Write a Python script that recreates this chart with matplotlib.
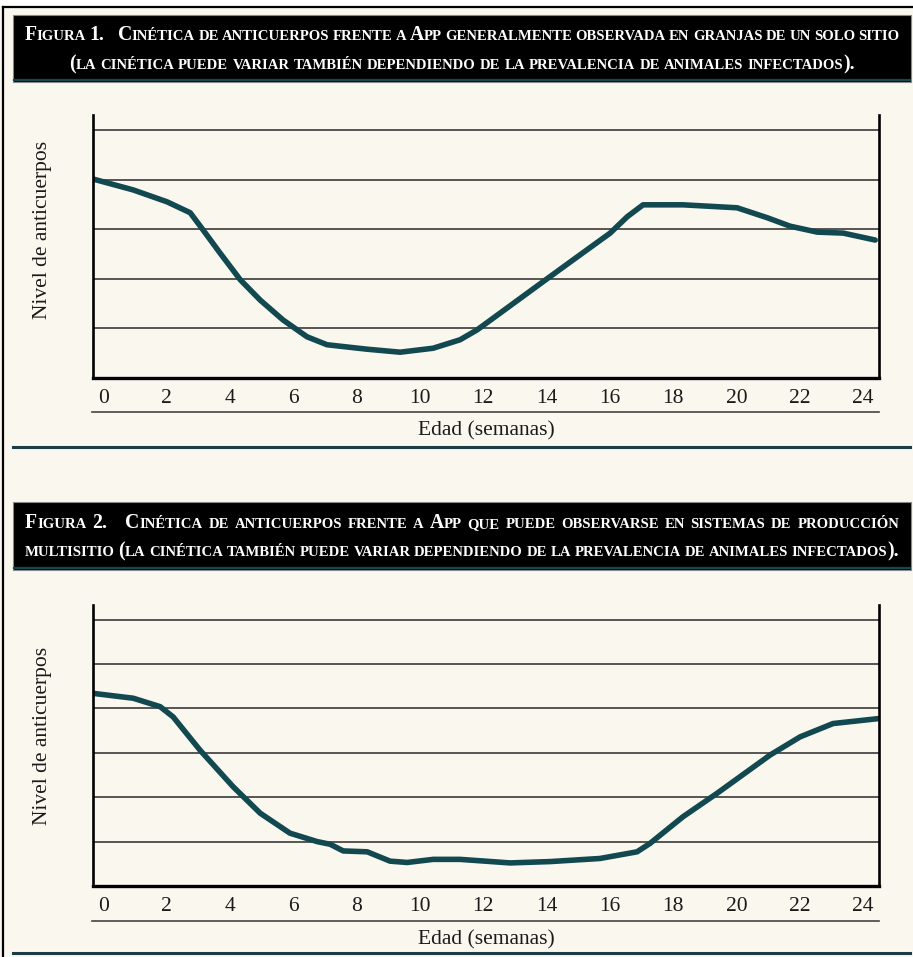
import matplotlib
matplotlib.use('Agg')
import matplotlib.pyplot as plt
from matplotlib.lines import Line2D
from matplotlib.patches import Rectangle
from matplotlib.offsetbox import TextArea, HPacker, DrawingArea, AnchoredOffsetbox

# --- data (weeks, antibody level in grid units) ---
weeks_1 = [-0.32, 0.95, 2.02, 2.75, 3.16, 3.69, 4.33, 4.96, 5.68, 6.44, 7.07, 8.34, 9.38,
           10.42, 11.27, 11.81, 12.54, 13.89, 14.97, 16.01, 16.55, 17.05, 18.31, 20.02,
           20.97, 21.69, 22.55, 23.37, 24.38]
level_1 = [4.01, 3.79, 3.55, 3.33, 2.98, 2.52, 1.98, 1.57, 1.17, 0.83, 0.67, 0.58, 0.52,
           0.60, 0.77, 0.97, 1.31, 1.94, 2.44, 2.92, 3.25, 3.49, 3.49, 3.43,
           3.23, 3.06, 2.94, 2.92, 2.78]

weeks_2 = [-0.32, 0.95, 1.80, 2.21, 3.06, 4.10, 4.96, 5.90, 6.76, 7.17, 7.58, 8.34, 9.06,
           9.60, 10.42, 11.27, 12.85, 14.11, 15.69, 16.86, 17.27, 18.31, 19.39, 21.06,
           22.01, 23.05, 24.47]
level_2 = [4.34, 4.23, 4.04, 3.81, 3.06, 2.24, 1.64, 1.19, 1.00, 0.94, 0.79, 0.77, 0.56,
           0.53, 0.60, 0.60, 0.52, 0.55, 0.62, 0.77, 0.96, 1.56, 2.09, 2.95,
           3.36, 3.66, 3.77]

grid_1 = [1, 2, 3, 4, 5]
grid_2 = [1, 2, 3, 4, 5, 6]
xticks = list(range(0, 25, 2))

title_1 = ["Figura 1.  Cinética de anticuerpos frente a App generalmente observada en granjas de un solo sitio",
           "(la cinética puede variar también dependiendo de la prevalencia de animales infectados)."]
title_2 = ["Figura 2.  Cinética de anticuerpos frente a App que puede observarse en sistemas de producción",
           "multisitio (la cinética también puede variar dependiendo de la prevalencia de animales infectados)."]
xlabel = 'Edad (semanas)'
ylabel = 'Nivel de anticuerpos'

W, H = 913, 957
bg = '#f9f7ee'
teal = '#124850'
serif = 'Liberation Serif'

def fx(px):
    return px / W

def fy(py):
    return 1 - py / H

fig = plt.figure(figsize=(W / 100, H / 100), dpi=100, facecolor=bg)

# outer frame
fig.add_artist(Rectangle((0, fy(6)), 1, 1, transform=fig.transFigure, color='white', lw=0))
fig.add_artist(Line2D([fx(3), 1], [fy(7), fy(7)], color='black', lw=1.6))
fig.add_artist(Line2D([fx(3), fx(3)], [fy(7), 0], color='black', lw=1.6))


def sc_word(word, big, small):
    runs = []
    for ch in word:
        s = small if ch.islower() else big
        if runs and runs[-1][1] == s:
            runs[-1][0] += ch
        else:
            runs.append([ch, s])
    kids = [TextArea(t.upper(), textprops=dict(fontsize=s, color='white', fontweight='bold',
                                               family=serif)) for t, s in runs]
    return HPacker(children=kids, align='baseline', pad=0, sep=0)


def sc_line(text, big=14.2, small=10.6, width=None, sep=3.0):
    kids = []
    for w in text.split(' '):
        if w == '':
            kids.append(DrawingArea(5, 1))
        else:
            kids.append(sc_word(w, big, small))
    if width is None:
        return HPacker(children=kids, align='baseline', pad=0, sep=sep)
    return HPacker(children=kids, align='baseline', pad=0, sep=sep, mode='expand', width=width)


def title_box(top, bottom, lines, ys, widths):
    fig.add_artist(Rectangle((fx(13), fy(bottom)), fx(911) - fx(13), fy(top) - fy(bottom),
                             transform=fig.transFigure, facecolor='black', edgecolor='#8a8a8a', lw=0.8))
    fig.add_artist(Line2D([fx(14), fx(910)], [fy(bottom - 2)] * 2, color=teal, lw=1.6))
    for text, y, w in zip(lines, ys, widths):
        box = sc_line(text, width=w)
        fig.add_artist(AnchoredOffsetbox(loc='center', child=box, pad=0, borderpad=0, frameon=False,
                                         bbox_to_anchor=(fx(462), fy(y)),
                                         bbox_transform=fig.transFigure))


def panel(top, bottom, weeks, level, grid, ymax, under_y, sep_y, ylab_y):
    ax = fig.add_axes([fx(93), fy(bottom), fx(879) - fx(93), fy(top) - fy(bottom)])
    ax.set_facecolor('none')
    ax.plot(weeks, level, color=teal, lw=4.0, solid_capstyle='round', solid_joinstyle='round')
    ax.set_xlim(-0.32, 24.5)
    ax.set_ylim(0, ymax)
    ax.set_yticks(grid)
    ax.grid(axis='y', color='#2a2a2a', lw=1.1)
    ax.set_axisbelow(True)
    ax.tick_params(axis='y', length=0, labelleft=False)
    ax.set_xticks(xticks)
    ax.set_xticklabels([str(t) for t in xticks], fontsize=15.5, family=serif, color='#1a1a1a')
    ax.tick_params(axis='x', length=0, pad=8)
    ax.spines['top'].set_visible(False)
    for s in ['left', 'right']:
        ax.spines[s].set_linewidth(1.9)
    ax.spines['bottom'].set_linewidth(2.4)
    ax.set_xlabel(xlabel, fontsize=15.5, family=serif, color='#1a1a1a')
    ax.xaxis.set_label_coords(0.5, (bottom - (under_y + 9)) / (bottom - top))
    ax.set_ylabel(ylabel, fontsize=15.5, family=serif, color='#1a1a1a')
    ax.yaxis.set_label_coords((52 - 93) / (879 - 93), (bottom - ylab_y) / (bottom - top))
    fig.add_artist(Line2D([fx(92), fx(879)], [fy(under_y)] * 2, color='#444444', lw=1.2))
    fig.add_artist(Line2D([fx(13), fx(910)], [fy(sep_y)] * 2, color='#1d3c46', lw=2.2))
    return ax


title_box(15, 82, title_1, [35, 64], [875, None])
panel(115, 378, weeks_1, level_1, grid_1, 5.3, 412, 447, 230)

title_box(502, 570, title_2, [523, 551], [874, 874])
panel(605, 886, weeks_2, level_2, grid_2, 6.33, 921, 953, 736)

fig.savefig('out.png', dpi=100, facecolor=bg)
